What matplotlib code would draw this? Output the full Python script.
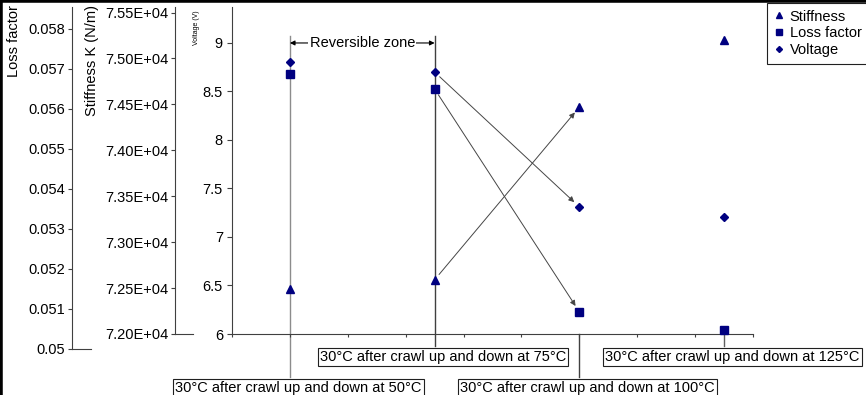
import matplotlib.pyplot as plt
import matplotlib.transforms as mtransforms
from matplotlib.lines import Line2D
from matplotlib.ticker import MultipleLocator, FuncFormatter

plt.rcParams['font.family'] = ['Liberation Sans', 'DejaVu Sans']
plt.rcParams['font.size'] = 10.5

# data
conditions = ['30°C after crawl up and down at 50°C',
              '30°C after crawl up and down at 75°C',
              '30°C after crawl up and down at 100°C',
              '30°C after crawl up and down at 125°C']
x_vals = [1, 3.5, 6, 8.5]
stiffness = [72490, 72590, 74470, 75200]
loss_factor = [0.05688, 0.0565, 0.05093, 0.05048]
voltage = [8.80, 8.70, 7.31, 7.21]

navy = '#000080'
axis_col = '#404040'
W, H = 866, 395


def box(l, t, r, b):
    return [l / W, 1 - b / H, (r - l) / W, (b - t) / H]


fig = plt.figure(figsize=(W / 100, H / 100), dpi=100)
ax = fig.add_axes(box(232, 7, 753, 334))
ax_k = ax.twinx()
ax_l = fig.add_axes(box(232, 7, 753, 349))

# voltage axis
ax.set_xlim(0, 9)
ax.set_ylim(6, 9.37)
ax.yaxis.set_major_locator(MultipleLocator(0.5))
ax.yaxis.set_major_formatter(FuncFormatter(lambda v, p: f'{v:g}'))
ax.xaxis.set_major_locator(MultipleLocator(1))
ax.tick_params(axis='x', direction='out', length=2.5, color=axis_col, labelbottom=False)
ax.tick_params(axis='y', direction='out', length=3.5, color=axis_col, pad=3)
for s in ['top', 'right']:
    ax.spines[s].set_visible(False)
for s in ['left', 'bottom']:
    ax.spines[s].set_color(axis_col)
    ax.spines[s].set_linewidth(0.8)
ax.patch.set_visible(False)

# stiffness axis
ax_k.set_ylim(72000, 75560)
ax_k.yaxis.set_major_locator(MultipleLocator(500))
ax_k.yaxis.set_major_formatter(FuncFormatter(lambda v, p: f'{v:.2E}'))
ax_k.yaxis.set_ticks_position('left')
ax_k.spines['left'].set_position(('axes', -0.1094))
for s in ['top', 'right', 'bottom']:
    ax_k.spines[s].set_visible(False)
ax_k.spines['left'].set_visible(True)
ax_k.spines['left'].set_color(axis_col)
ax_k.spines['left'].set_linewidth(0.8)
ax_k.tick_params(axis='y', direction='out', length=3, color=axis_col, pad=2)
ax_k.plot([-0.1094, -0.0749], [0, 0], transform=ax_k.transAxes, clip_on=False,
          color=axis_col, lw=0.8)

# loss factor axis
ax_l.set_xlim(0, 9)
ax_l.set_ylim(0.05, 0.05855)
ax_l.yaxis.set_major_locator(MultipleLocator(0.001))
ax_l.yaxis.set_major_formatter(FuncFormatter(lambda v, p: f'{round(v, 3):g}'))
ax_l.spines['left'].set_position(('axes', -0.3071))
for s in ['top', 'right', 'bottom']:
    ax_l.spines[s].set_visible(False)
ax_l.spines['left'].set_color(axis_col)
ax_l.spines['left'].set_linewidth(0.8)
ax_l.tick_params(axis='y', direction='out', length=3, color=axis_col, pad=2)
ax_l.set_xticks([])
ax_l.patch.set_visible(False)
ax_l.plot([-0.3071, -0.2706], [0, 0], transform=ax_l.transAxes, clip_on=False,
          color=axis_col, lw=0.8)

# axis titles
fig.text(14 / W, 1 - 5 / H, 'Loss factor', rotation=90, ha='center', va='top')
fig.text(92 / W, 1 - 5 / H, 'Stiffness K (N/m)', rotation=90, ha='center', va='top')
fig.text(197 / W, 1 - 10 / H, 'Voltage (V)', rotation=90, ha='center', va='top', fontsize=5)

# leader lines and category labels
blend = mtransforms.blended_transform_factory(ax.transData, ax.transAxes)
line_top = [0.911, 0.911, 0.0, 0.0]
label_top = [-0.131, -0.037, -0.131, -0.037]
line_cols = ['#8c8c8c', '#404040', '#404040', '#606060']
for xv, lab, t0, t1, c in zip(x_vals, conditions, line_top, label_top, line_cols):
    ax.plot([xv, xv], [t0, t1], transform=blend, clip_on=False, color=c, lw=1.0, zorder=1)
    ax.annotate(lab, xy=(xv, t1), xycoords=blend, xytext=(6, -3), textcoords='offset points',
                ha='center', va='top', annotation_clip=False, zorder=5,
                bbox=dict(boxstyle='square,pad=0.15', fc='white', ec='#202020', lw=0.8))

# reversible zone
ax.annotate('', xy=(x_vals[0], 0.89), xytext=(x_vals[1], 0.89), xycoords=blend,
            arrowprops=dict(arrowstyle='<|-|>', color='black', lw=0.8,
                            mutation_scale=7, shrinkA=0, shrinkB=0))
ax.text((x_vals[0] + x_vals[1]) / 2, 0.89, 'Reversible zone', transform=blend,
        ha='center', va='center', bbox=dict(boxstyle='square,pad=0.1', fc='white', ec='none'))

# markers
h_k, = ax_k.plot(x_vals, stiffness, ls='none', marker='^', ms=5.5, color=navy, label='Stiffness', zorder=4)
h_l, = ax_l.plot(x_vals, loss_factor, ls='none', marker='s', ms=6, color=navy, label='Loss factor', zorder=4)
h_v, = ax.plot(x_vals, voltage, ls='none', marker='D', ms=3.8, color=navy, label='Voltage', zorder=4)

# arrows 75 -> 100
arr = dict(arrowstyle='-|>', color='#454545', lw=0.7, mutation_scale=8, shrinkA=5, shrinkB=5)
ax.annotate('', xy=(x_vals[2], voltage[2]), xytext=(x_vals[1], voltage[1]), arrowprops=arr)
ax_k.annotate('', xy=(x_vals[2], stiffness[2]), xytext=(x_vals[1], stiffness[1]), arrowprops=arr)
ax_l.annotate('', xy=(x_vals[2], loss_factor[2]), xytext=(x_vals[1], loss_factor[1]), arrowprops=arr)

leg = fig.legend([h_k, h_l, h_v], ['Stiffness', 'Loss factor', 'Voltage'], loc='upper left',
                 bbox_to_anchor=(767 / W, 1 - 3 / H), fancybox=False, edgecolor='#202020',
                 borderpad=0.45, handlelength=0.7, handletextpad=0.4, labelspacing=0.2,
                 borderaxespad=0, framealpha=1, markerscale=0.8)
leg.get_frame().set_linewidth(0.8)

# picture border on top and left
fig.add_artist(Line2D([0, 1], [1, 1], transform=fig.transFigure, color='black', lw=4))
fig.add_artist(Line2D([0, 0], [0, 1], transform=fig.transFigure, color='black', lw=4))

fig.savefig('out.png', dpi=100)
